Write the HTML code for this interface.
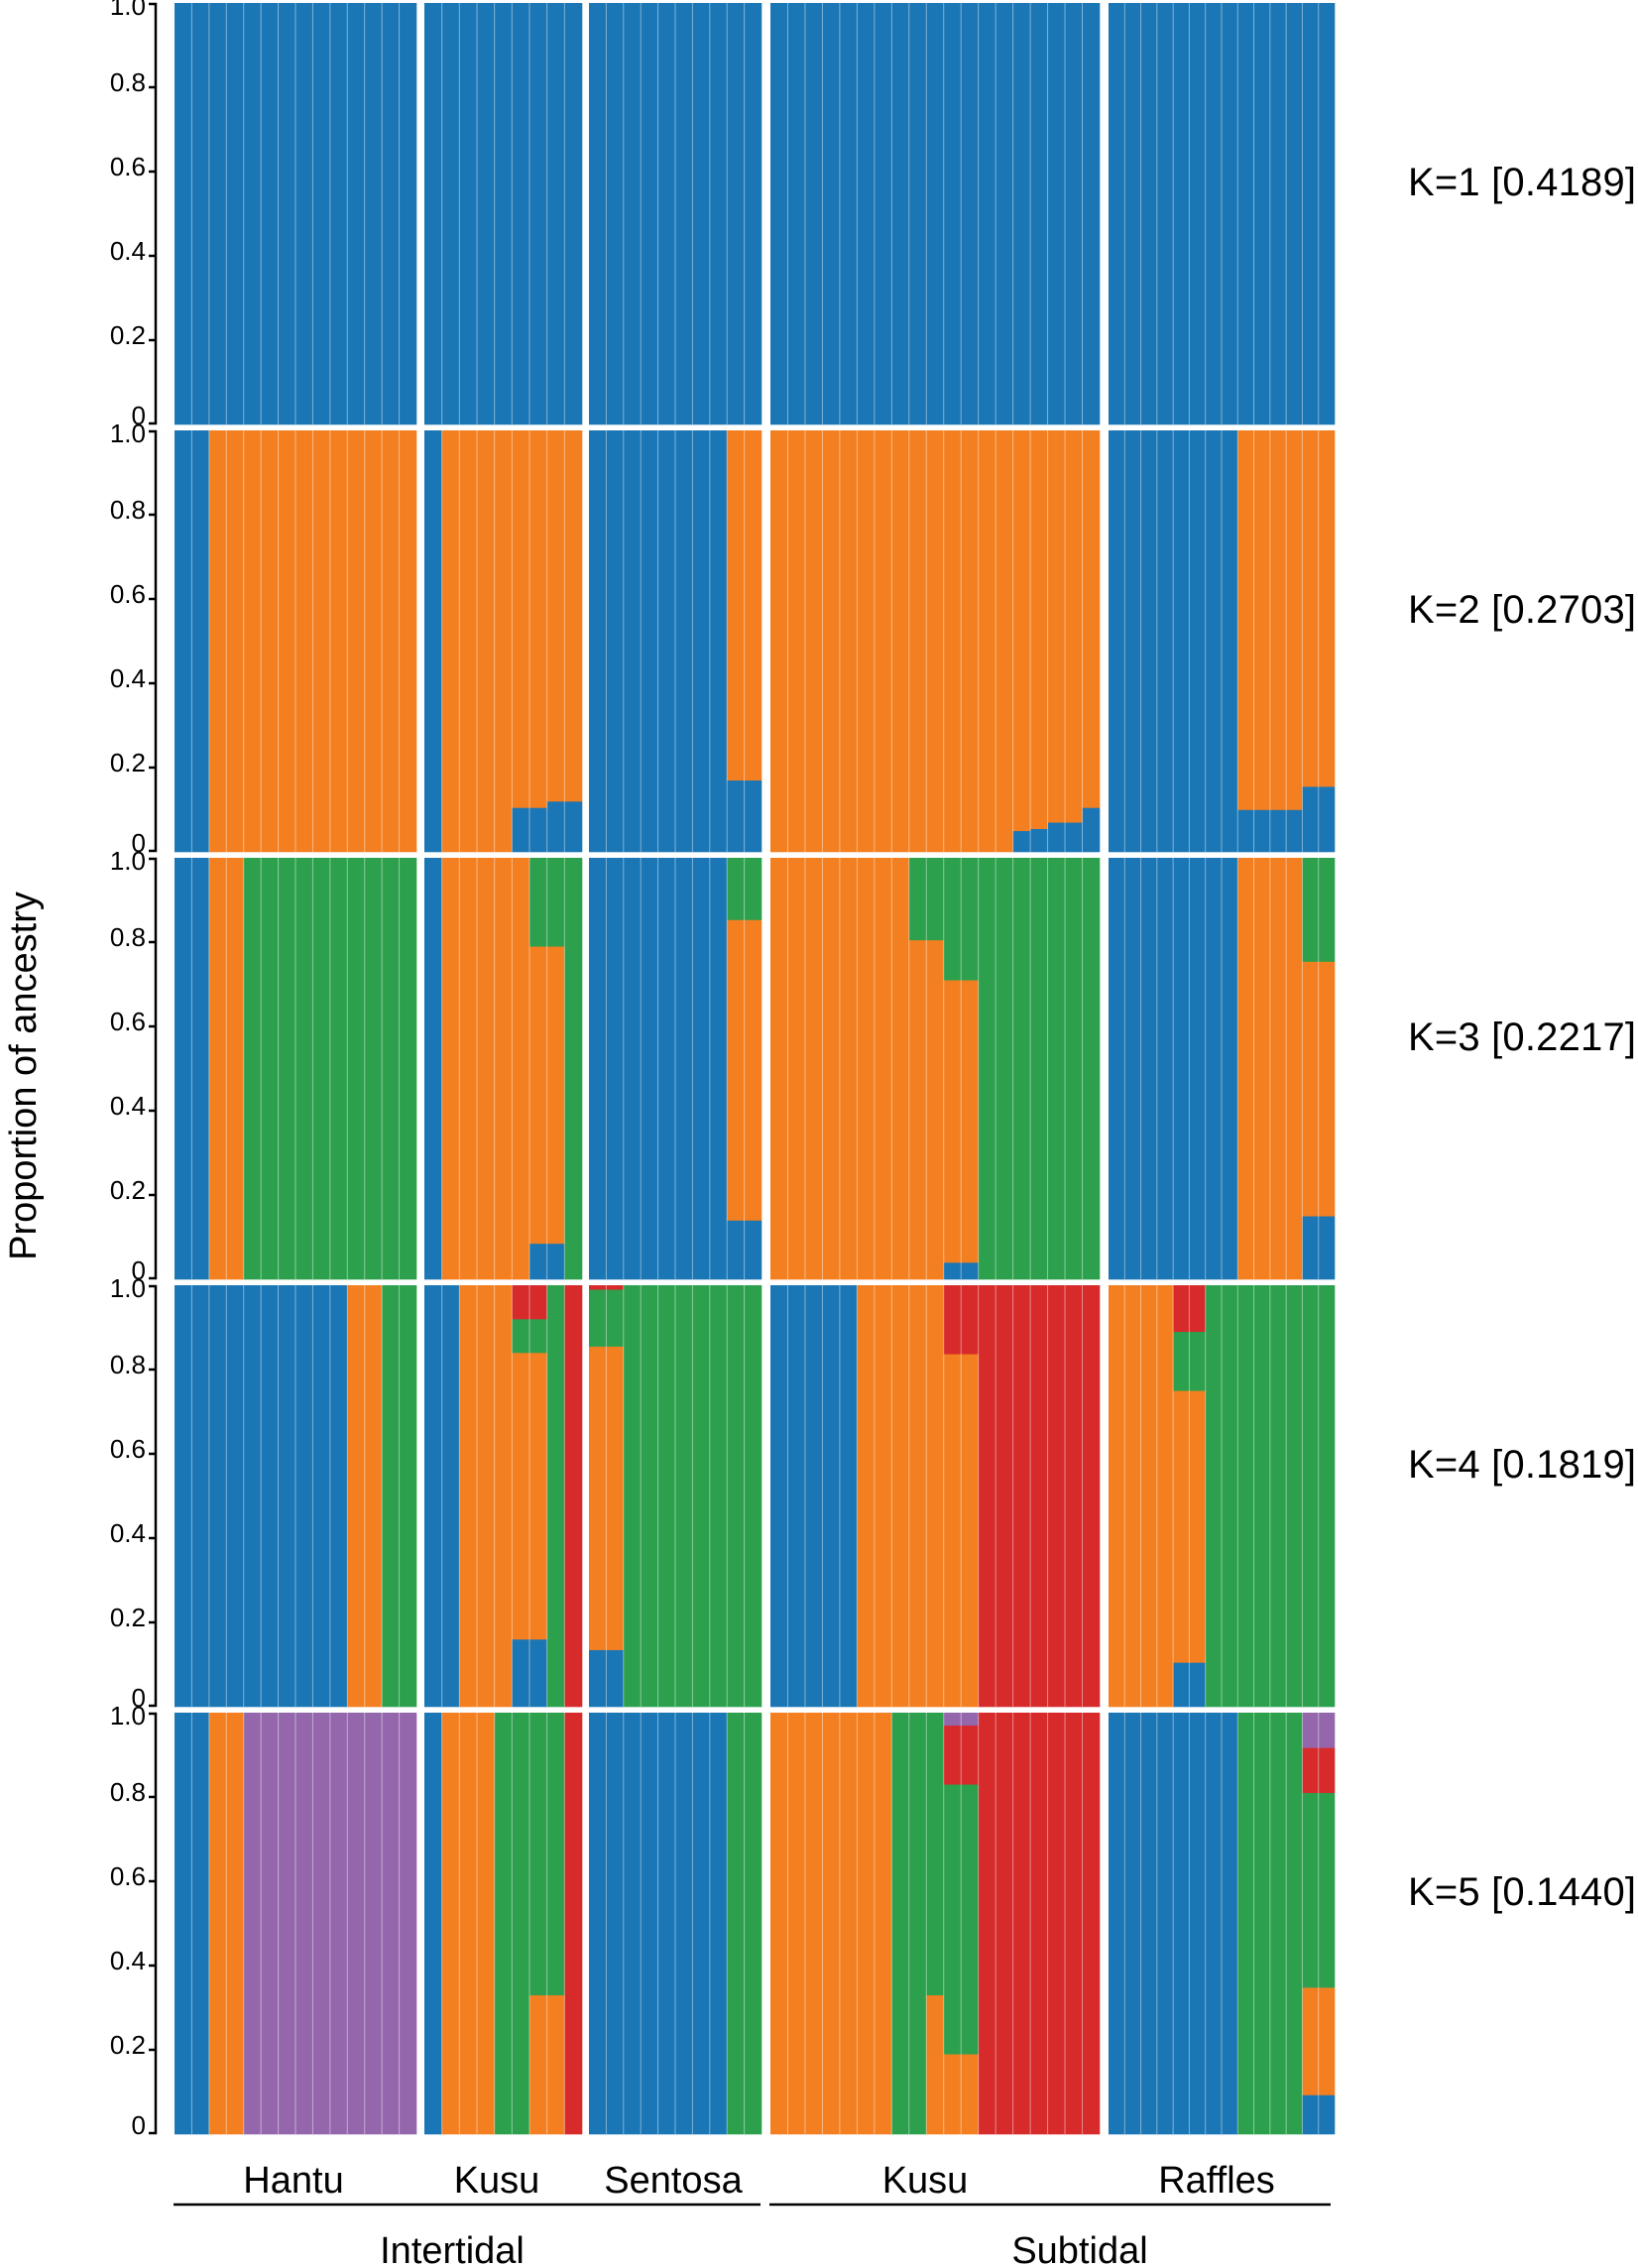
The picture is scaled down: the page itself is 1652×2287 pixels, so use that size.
<!DOCTYPE html>
<html><head><meta charset="utf-8"><style>
html,body{margin:0;padding:0;background:#fff}
svg{display:block}
text{font-family:"Liberation Sans",Arial,sans-serif;fill:#000}
</style></head><body>
<svg id="s" width="1652" height="2287" viewBox="0 0 1652 2287" xmlns="http://www.w3.org/2000/svg">
<g id="bars"></g>
<g id="axes" stroke="#000" stroke-width="2.5" fill="none"></g>
<g font-size="26" text-anchor="end" id="ticks"></g>
<text x="1420" y="197" font-size="40" textLength="230">K=1 [0.4189]</text>
<text x="1420" y="628" font-size="40" textLength="230">K=2 [0.2703]</text>
<text x="1420" y="1059" font-size="40" textLength="230">K=3 [0.2217]</text>
<text x="1420" y="1490" font-size="40" textLength="230">K=4 [0.1819]</text>
<text x="1420" y="1921" font-size="40" textLength="230">K=5 [0.1440]</text>
<text transform="translate(36,1085) rotate(-90)" font-size="38" text-anchor="middle">Proportion of ancestry</text>
<g font-size="38" text-anchor="middle">
<text x="296" y="2211">Hantu</text>
<text x="501" y="2211">Kusu</text>
<text x="679" y="2211">Sentosa</text>
<text x="933" y="2211">Kusu</text>
<text x="1227" y="2211">Raffles</text>
<text x="456" y="2282">Intertidal</text>
<text x="1089" y="2282">Subtidal</text>
</g>
<line x1="175" y1="2223" x2="767" y2="2223" stroke="#000" stroke-width="2.5"/>
<line x1="776" y1="2223" x2="1342" y2="2223" stroke="#000" stroke-width="2.5"/>
</svg>
<script>
var B='#1a76b4',O='#f47f20',G='#2ca04c',R='#d62a2b',P='#9467ad';
var groups=[[176,420,14],[428,587,9],[594,768,10],[777,1109,19],[1118,1346,14]];
var tops=[3,434,865,1296,1727],H=425;
var D=[
 [[[14,[[B,1]]]],[[9,[[B,1]]]],[[10,[[B,1]]]],[[19,[[B,1]]]],[[14,[[B,1]]]]],
 [[[2,[[B,1]]],[12,[[O,1]]]],
  [[1,[[B,1]]],[4,[[O,1]]],[2,[[B,.105],[O,.895]]],[2,[[B,.12],[O,.88]]]],
  [[8,[[B,1]]],[2,[[B,.17],[O,.83]]]],
  [[14,[[O,1]]],[1,[[B,.05],[O,.95]]],[1,[[B,.055],[O,.945]]],[2,[[B,.07],[O,.93]]],[1,[[B,.105],[O,.895]]]],
  [[8,[[B,1]]],[4,[[B,.1],[O,.9]]],[2,[[B,.155],[O,.845]]]]],
 [[[2,[[B,1]]],[2,[[O,1]]],[10,[[G,1]]]],
  [[1,[[B,1]]],[5,[[O,1]]],[2,[[B,.085],[O,.705],[G,.21]]],[1,[[G,1]]]],
  [[8,[[B,1]]],[2,[[B,.14],[O,.713],[G,.147]]]],
  [[8,[[O,1]]],[2,[[O,.805],[G,.195]]],[2,[[B,.04],[O,.67],[G,.29]]],[7,[[G,1]]]],
  [[8,[[B,1]]],[4,[[O,1]]],[2,[[B,.15],[O,.604],[G,.246]]]]],
 [[[10,[[B,1]]],[2,[[O,1]]],[2,[[G,1]]]],
  [[2,[[B,1]]],[3,[[O,1]]],[2,[[B,.16],[O,.68],[G,.08],[R,.08]]],[1,[[G,1]]],[1,[[R,1]]]],
  [[2,[[B,.135],[O,.72],[G,.135],[R,.01]]],[8,[[G,1]]]],
  [[5,[[B,1]]],[5,[[O,1]]],[2,[[O,.837],[R,.163]]],[7,[[R,1]]]],
  [[4,[[O,1]]],[2,[[B,.105],[O,.645],[G,.14],[R,.11]]],[8,[[G,1]]]]],
 [[[2,[[B,1]]],[2,[[O,1]]],[10,[[P,1]]]],
  [[1,[[B,1]]],[3,[[O,1]]],[2,[[G,1]]],[2,[[O,.33],[G,.67]]],[1,[[R,1]]]],
  [[8,[[B,1]]],[2,[[G,1]]]],
  [[7,[[O,1]]],[2,[[G,1]]],[1,[[O,.33],[G,.67]]],[2,[[O,.19],[G,.64],[R,.14],[P,.03]]],[7,[[R,1]]]],
  [[8,[[B,1]]],[4,[[G,1]]],[2,[[B,.093],[O,.255],[G,.462],[R,.107],[P,.083]]]]]
];
var out='',ax='',tk='';
for(var k=0;k<5;k++){
 var t=tops[k],b=t+H;
 for(var g=0;g<5;g++){
  var x0=groups[g][0],x1=groups[g][1],n=groups[g][2],w=(x1-x0)/n,i=0;
  D[k][g].forEach(function(run){
   for(var c=0;c<run[0];c++){
    var x=x0+i*w,y=b;
    run[1].forEach(function(s){var h=s[1]*H;out+='<rect x="'+x.toFixed(2)+'" y="'+(y-h).toFixed(2)+'" width="'+(w+0.3).toFixed(2)+'" height="'+(h+0.3).toFixed(2)+'" fill="'+s[0]+'"/>';y-=h;});
    if(i>0)out+='<line x1="'+x.toFixed(2)+'" y1="'+t+'" x2="'+x.toFixed(2)+'" y2="'+b+'" stroke="#fff" stroke-opacity="0.45" stroke-width="1"/>';
    i++;
   }
  });
 }
 ax+='<path d="M150 '+(t+1)+'H157V'+(b-1)+'H150"/>';
 for(var j=1;j<5;j++){var yy=b-j*0.2*H;ax+='<path d="M150 '+yy.toFixed(1)+'H157"/>';}
 var lab=['0','0.2','0.4','0.6','0.8','1.0'];
 for(var j=0;j<6;j++){var yy=b-j*0.2*H+(j==0?0:(j==5?12:4));tk+='<text x="147" y="'+yy.toFixed(1)+'">'+lab[j]+'</text>';}
}
document.getElementById('bars').innerHTML=out;
document.getElementById('axes').innerHTML=ax;
document.getElementById('ticks').innerHTML=tk;
</script>
</body></html>
